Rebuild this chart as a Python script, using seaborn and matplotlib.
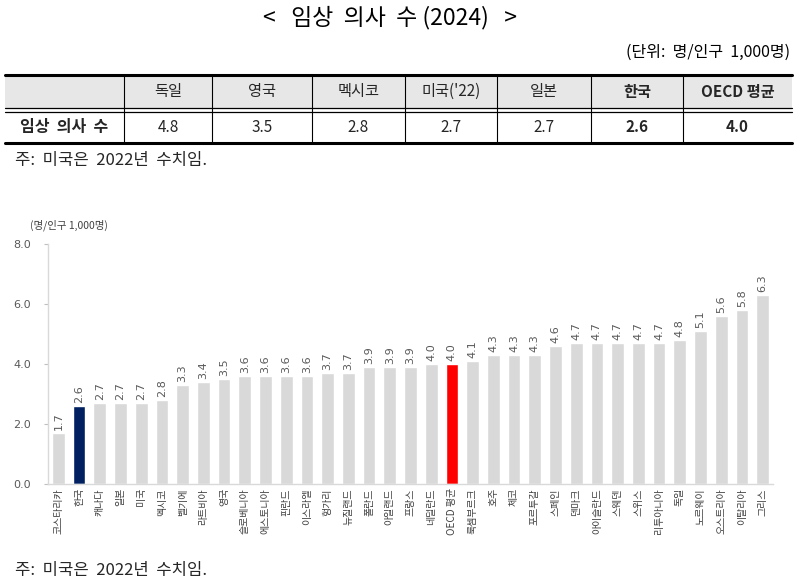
import matplotlib
matplotlib.use("Agg")
import matplotlib.pyplot as plt
import seaborn as sns
from matplotlib.lines import Line2D
from matplotlib.patches import Rectangle

# ---- data ----
countries = ['코스타리카', '한국', '캐나다', '일본', '미국', '멕시코', '벨기에', '라트비아', '영국',
             '슬로베니아', '에스토니아', '핀란드', '이스라엘', '헝가리', '뉴질랜드', '폴란드', '아일랜드',
             '프랑스', '네덜란드', 'OECD 평균', '룩셈부르크', '호주', '체코', '포르투갈', '스페인', '덴마크',
             '아이슬란드', '스웨덴', '스위스', '리투아니아', '독일', '노르웨이', '오스트리아', '이탈리아', '그리스']
values = [1.7, 2.6, 2.7, 2.7, 2.7, 2.8, 3.3, 3.4, 3.5, 3.6, 3.6, 3.6, 3.6, 3.7, 3.7, 3.9, 3.9,
          3.9, 4.0, 4.0, 4.1, 4.3, 4.3, 4.3, 4.6, 4.7, 4.7, 4.7, 4.7, 4.7, 4.8, 5.1, 5.6, 5.8, 6.3]
y_ticks = [0.0, 2.0, 4.0, 6.0, 8.0]

table_countries = ['독일', '영국', '멕시코', "미국('22)", '일본', '한국', 'OECD 평균']
table_values = [4.8, 3.5, 2.8, 2.7, 2.7, 2.6, 4.0]
table_bold = ['한국', 'OECD 평균']

title = '<   임상  의사  수 (2024)   >'
unit_text = '(단위:  명/인구  1,000명)'
note_text = '주:  미국은  2022년  수치임.'
row_label = '임상  의사  수'
axis_unit = '(명/인구 1,000명)'

# ---- style ----
sns.set_theme(style="white")
plt.rcParams['font.family'] = ['Noto Sans CJK KR', 'DejaVu Sans']

W, H = 798, 581
fig = plt.figure(figsize=(W / 100, H / 100), dpi=100)

def fx(px):
    return px / W

def fy(py):
    return 1 - py / H

# ---- title, unit ----
fig.text(fx(390), fy(18), title, ha='center', va='center', fontsize=16.5, color='black')
fig.text(fx(790), fy(52), unit_text, ha='right', va='center', fontsize=11.5, color='black')

# ---- table ----
col_edges = [5, 124, 212, 312, 405, 497, 591, 683, 792]
y_top, y_hdr_bot, y_dbl2, y_bot = 75, 108, 112, 143
fig.patches.append(Rectangle((fx(5), fy(y_hdr_bot)), fx(792) - fx(5), fy(y_top) - fy(y_hdr_bot),
                             transform=fig.transFigure, facecolor='#e7e7e7', edgecolor='none', zorder=0))
def hline(py, lw):
    fig.add_artist(Line2D([fx(5), fx(792)], [fy(py), fy(py)], transform=fig.transFigure,
                          color='black', lw=lw))
hline(y_top, 2.2)
hline(y_hdr_bot, 0.9)
hline(y_dbl2 - 0.5, 0.9)
hline(y_bot, 2.2)
for xe in col_edges[1:-1]:
    fig.add_artist(Line2D([fx(xe), fx(xe)], [fy(y_top + 1), fy(y_bot - 1)], transform=fig.transFigure,
                          color='black', lw=0.8))
fig.text(fx((col_edges[0] + col_edges[1]) / 2), fy((y_dbl2 + y_bot) / 2), row_label,
         ha='center', va='center', fontsize=11.5, fontweight='bold')
for i, (c, v) in enumerate(zip(table_countries, table_values)):
    cx = (col_edges[i + 1] + col_edges[i + 2]) / 2
    wt = 'bold' if c in table_bold else 'normal'
    fig.text(fx(cx), fy((y_top + y_hdr_bot) / 2), c, ha='center', va='center', fontsize=11, fontweight=wt)
    fig.text(fx(cx), fy((y_dbl2 + y_bot) / 2), f'{v:.1f}', ha='center', va='center', fontsize=11, fontweight=wt)

fig.text(fx(15), fy(160), note_text, ha='left', va='center', fontsize=12)

# ---- bar chart ----
ax_l, ax_r, ax_t, ax_b = 48, 773, 244, 484
ax = fig.add_axes([fx(ax_l), fy(ax_b), fx(ax_r) - fx(ax_l), fy(ax_t) - fy(ax_b)])
colors = ['#002060' if c == '한국' else ('#ff0000' if c == 'OECD 평균' else '#d9d9d9') for c in countries]
sns.barplot(x=countries, y=values, hue=countries, palette=colors, legend=False, width=0.62,
            saturation=1, ax=ax)
ax.set_xlim(-0.5, len(countries) - 0.5)
ax.set_ylim(0, 8)
ax.set_yticks(y_ticks)
ax.set_yticklabels([f'{t:.1f}' for t in y_ticks], fontsize=8, color='#595959', family=['DejaVu Sans'])
ax.tick_params(axis='y', length=3, width=0.8, color='#bfbfbf', pad=9, left=True)
ax.tick_params(axis='x', length=0, pad=3)
ax.set_xticks(range(len(countries)))
ax.set_xticklabels(countries, rotation=90, fontsize=7.2, color='#404040')
for s in ['top', 'right']:
    ax.spines[s].set_visible(False)
for s in ['left', 'bottom']:
    ax.spines[s].set_color('#d9d9d9')
    ax.spines[s].set_linewidth(1.0)
ax.set_xlabel('')
ax.set_ylabel('')
for i, v in enumerate(values):
    ax.text(i, v + 0.1, f'{v:.1f}', rotation=90, ha='center', va='bottom', fontsize=8,
            color='#595959', family=['DejaVu Sans'])
fig.text(fx(30), fy(225), axis_unit, ha='left', va='center', fontsize=7.5, color='#404040')

fig.text(fx(15), fy(570), note_text, ha='left', va='center', fontsize=12)

fig.savefig('out.png', dpi=100)
